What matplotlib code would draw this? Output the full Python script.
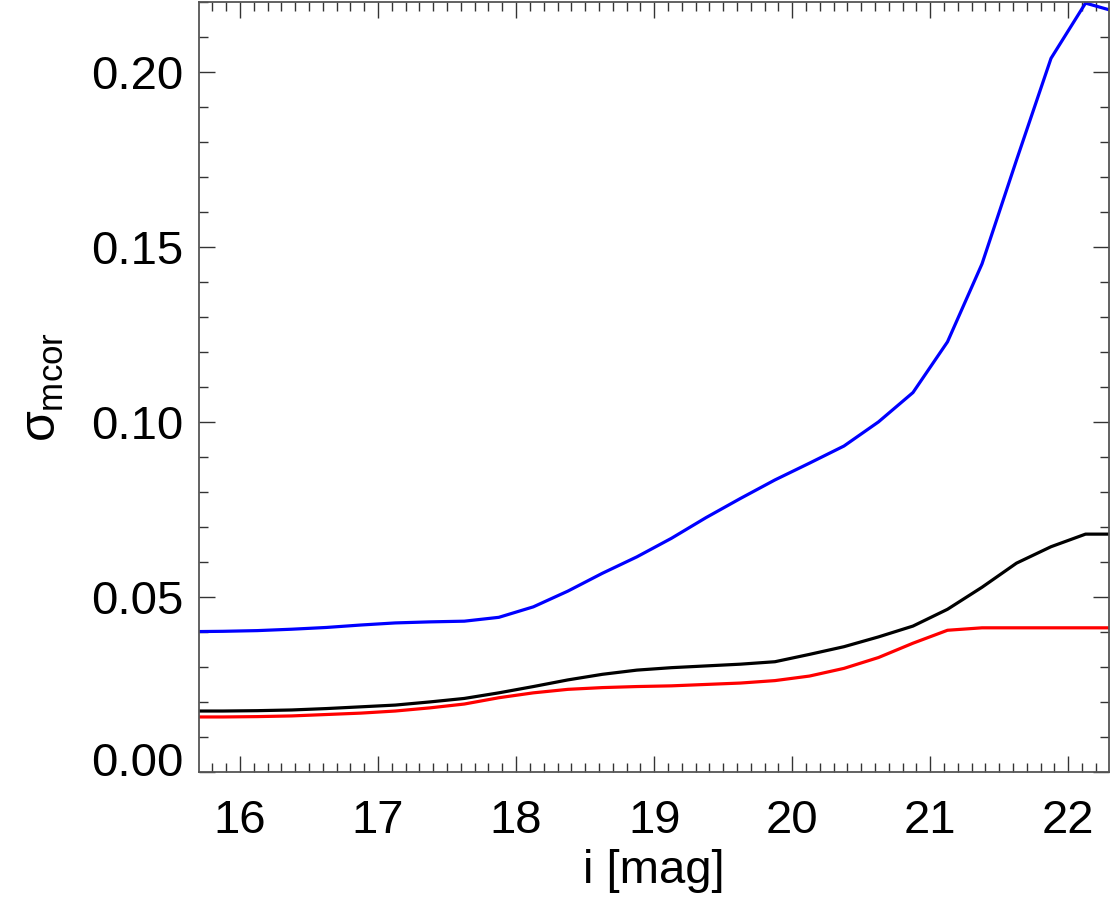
import matplotlib
matplotlib.use("Agg")
import matplotlib.pyplot as plt
from matplotlib.ticker import MultipleLocator, FormatStrFormatter
from matplotlib.transforms import ScaledTranslation

plt.rcParams['font.family'] = ['Liberation Sans', 'DejaVu Sans']
plt.rcParams['mathtext.fontset'] = 'custom'
plt.rcParams['mathtext.rm'] = 'Liberation Sans'
plt.rcParams['mathtext.it'] = 'Liberation Sans'
plt.rcParams['mathtext.bf'] = 'Liberation Sans:bold'

mag = [15.625, 15.875, 16.125, 16.375, 16.625, 16.875, 17.125, 17.375,
       17.625, 17.875, 18.125, 18.375, 18.625, 18.875, 19.125, 19.375,
       19.625, 19.875, 20.125, 20.375, 20.625, 20.875, 21.125, 21.375,
       21.625, 21.875, 22.125, 22.375]

sigma_blue = [0.0400, 0.0401, 0.0403, 0.0407, 0.0412, 0.0419, 0.0425, 0.0428,
              0.0430, 0.0441, 0.0471, 0.0516, 0.0567, 0.0614, 0.0667, 0.0726,
              0.0781, 0.0834, 0.0882, 0.0931, 0.1000, 0.1084, 0.1229, 0.1452,
              0.1749, 0.2040, 0.2198, 0.2170]

sigma_black = [0.0173, 0.0173, 0.0174, 0.0176, 0.0180, 0.0185, 0.0190, 0.0199,
               0.0209, 0.0225, 0.0243, 0.0262, 0.0278, 0.0290, 0.0297, 0.0302,
               0.0307, 0.0314, 0.0335, 0.0357, 0.0385, 0.0416, 0.0464, 0.0527,
               0.0596, 0.0643, 0.0679, 0.0679]

sigma_red = [0.0156, 0.0156, 0.0157, 0.0159, 0.0163, 0.0167, 0.0173, 0.0182,
             0.0193, 0.0211, 0.0225, 0.0235, 0.0240, 0.0243, 0.0245, 0.0249,
             0.0253, 0.0260, 0.0273, 0.0295, 0.0326, 0.0367, 0.0404, 0.0411,
             0.0411, 0.0411, 0.0411, 0.0411]

fig = plt.figure(figsize=(11.17, 9.01), dpi=100)
ax = fig.add_axes([199/1117, 1 - 771.5/901, (1109-199)/1117, (771.5-2.4)/901])

lw = 2.3
ax.plot(mag, sigma_blue, color='#0000ff', lw=lw)
ax.plot(mag, sigma_black, color='black', lw=lw)
ax.plot(mag, sigma_red, color='#ff0000', lw=lw)

ax.set_xlim(15.703, 22.295)
ax.set_ylim(0.0, 0.22)

ax.xaxis.set_major_locator(MultipleLocator(1))
ax.xaxis.set_minor_locator(MultipleLocator(0.1))
ax.yaxis.set_major_locator(MultipleLocator(0.05))
ax.yaxis.set_minor_locator(MultipleLocator(0.01))
ax.yaxis.set_major_formatter(FormatStrFormatter('%.2f'))

for s in ax.spines.values():
    s.set_linewidth(1.3)
    s.set_color('#555555')

ax.tick_params(which='both', direction='in', top=True, right=True,
               color='#333333', width=1.0)
ax.tick_params(which='major', length=11.5, labelsize=34)
ax.tick_params(axis='x', which='major', pad=20)
ax.tick_params(axis='y', which='major', pad=11)
ax.tick_params(which='minor', length=6.2)

ax.set_xlabel('i [mag]', fontsize=34, labelpad=4)
ax.set_ylabel(r'$\sigma_{\rm mcor}$', fontsize=36, labelpad=18)

fig.canvas.draw()
ticks = ax.yaxis.get_major_ticks()
for t in ticks:
    if abs(t.get_loc()) < 1e-9:
        lab = t.label1
        lab.set_transform(lab.get_transform() +
                          ScaledTranslation(0, 13/100, fig.dpi_scale_trans))

fig.savefig('out.png', dpi=100)
